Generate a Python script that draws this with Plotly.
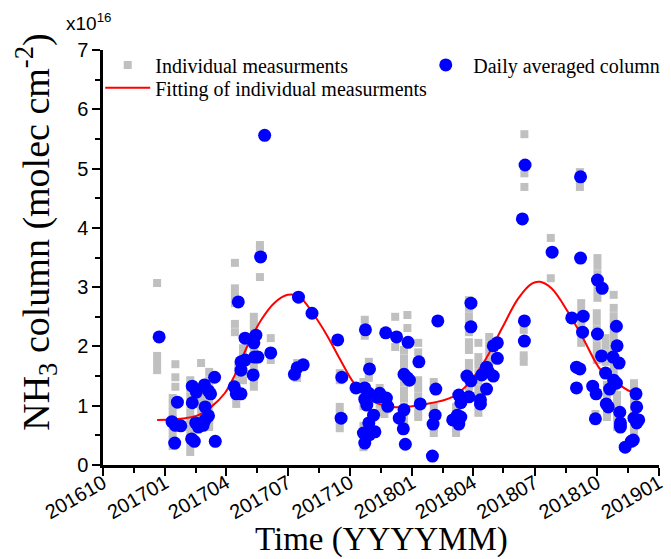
import plotly.graph_objects as go

# ---------------- data ----------------
gray_dates = [
    "2016-12-20", "2016-12-20", "2016-12-20", "2016-12-20",
    "2017-01-16", "2017-01-16", "2017-01-16",
    "2017-01-12", "2017-01-12", "2017-01-12", "2017-01-12", "2017-01-12", "2017-01-12", "2017-01-12", "2017-01-12",
    "2017-02-07", "2017-02-07", "2017-02-07", "2017-02-07", "2017-02-07", "2017-02-07", "2017-02-07", "2017-02-07", "2017-02-07", "2017-02-07",
    "2017-02-23", "2017-02-23", "2017-02-23", "2017-02-23", "2017-02-23", "2017-02-23", "2017-02-23",
    "2017-03-07", "2017-03-07", "2017-03-07", "2017-03-07", "2017-03-07", "2017-03-07", "2017-03-07", "2017-03-07",
    "2017-04-14", "2017-04-14", "2017-04-14", "2017-04-14", "2017-04-14", "2017-04-14",
    "2017-04-16", "2017-04-16", "2017-04-16", "2017-04-16", "2017-04-19", "2017-04-19",
    "2017-04-26", "2017-04-26", "2017-04-26", "2017-04-26", "2017-04-26",
    "2017-05-12", "2017-05-12", "2017-05-12", "2017-05-12", "2017-05-12", "2017-05-12", "2017-05-12", "2017-05-12", "2017-05-12", "2017-05-12", "2017-05-12",
    "2017-05-21", "2017-05-21", "2017-05-21",
    "2017-06-06", "2017-06-06",
    "2017-07-15", "2017-07-15", "2017-07-15",
    "2017-09-16", "2017-09-16", "2017-09-16", "2017-09-16", "2017-09-16", "2017-09-16",
    "2017-10-23", "2017-10-23", "2017-10-23",
    "2017-10-29", "2017-10-29", "2017-10-29",
    "2017-10-21", "2017-10-21", "2017-10-21", "2017-10-21", "2017-10-21", "2017-10-21", "2017-10-21", "2017-10-21",
    "2017-11-14", "2017-11-14", "2017-11-14", "2017-11-14",
    "2017-11-21", "2017-11-21", "2017-11-21",
    "2017-12-07", "2017-12-07",
    "2017-12-25", "2017-12-25",
    "2017-12-20", "2017-12-20", "2017-12-20", "2017-12-20", "2017-12-20", "2017-12-20", "2017-12-20", "2017-12-20", "2017-12-20", "2017-12-20", "2017-12-20",
    "2018-01-10", "2018-01-10", "2018-01-10", "2018-01-10", "2018-01-10", "2018-01-10", "2018-01-10", "2018-01-10",
    "2018-02-02", "2018-02-02", "2018-02-02", "2018-02-02", "2018-02-02", "2018-02-02",
    "2018-03-07", "2018-03-07", "2018-03-07", "2018-03-07", "2018-03-07",
    "2018-03-26", "2018-03-26", "2018-03-26", "2018-03-26", "2018-03-26", "2018-03-26", "2018-03-26", "2018-03-26", "2018-03-26", "2018-03-26", "2018-03-26",
    "2018-04-09", "2018-04-09", "2018-04-09", "2018-04-09", "2018-04-09", "2018-04-09", "2018-04-09", "2018-04-09", "2018-04-09",
    "2018-04-25", "2018-04-25", "2018-04-25", "2018-04-25", "2018-04-25",
    "2018-06-16", "2018-06-16", "2018-06-16",
    "2018-06-15", "2018-06-15", "2018-06-15", "2018-06-15",
    "2018-07-25", "2018-07-25",
    "2018-09-06", "2018-09-06", "2018-09-06",
    "2018-09-08", "2018-09-08", "2018-09-08", "2018-09-08", "2018-09-08", "2018-09-08",
    "2018-10-02", "2018-10-02", "2018-10-02", "2018-10-02", "2018-10-02", "2018-10-02",
    "2018-10-01", "2018-10-01", "2018-10-01", "2018-10-01", "2018-10-01", "2018-10-01", "2018-10-01",
    "2018-10-14", "2018-10-14", "2018-10-14", "2018-10-14",
    "2018-10-26", "2018-10-26", "2018-10-26", "2018-10-26", "2018-10-26", "2018-10-26", "2018-10-26", "2018-10-26", "2018-10-26", "2018-10-26", "2018-10-26", "2018-10-26",
    "2018-10-31", "2018-10-31", "2018-10-31", "2018-10-31", "2018-10-31",
    "2018-10-16", "2018-10-16", "2018-10-16", "2018-10-16", "2018-10-16",
    "2018-09-29", "2018-09-29",
    "2018-11-25", "2018-11-25", "2018-11-25", "2018-11-25", "2018-11-25", "2018-11-25", "2018-11-25",
]
gray_values = [
    3.07, 1.84, 1.72, 1.60,
    1.70, 1.48, 1.32,
    1.13, 1.01, 0.89, 0.78, 0.66, 0.54, 0.42, 0.32,
    1.43, 1.30, 1.16, 1.03, 0.89, 0.76, 0.62, 0.49, 0.35, 0.22,
    1.72, 1.32, 1.18, 1.05, 0.91, 0.78, 0.64,
    1.57, 1.43, 1.30, 1.16, 1.03, 0.89, 0.76, 0.64,
    3.41, 2.98, 2.85, 2.73, 2.38, 2.24,
    1.38, 1.26, 1.15, 1.03, 1.65, 1.52,
    1.97, 1.84, 1.70, 1.57, 1.43,
    2.50, 2.38, 2.26, 2.14, 2.02, 1.91, 1.79, 1.67, 1.55, 1.43, 1.32,
    3.71, 3.63, 3.17,
    2.14, 1.77,
    1.72, 1.60, 1.47,
    1.55, 1.43, 0.98, 0.86, 0.74, 0.62,
    2.45, 2.31, 2.18,
    1.74, 1.60, 1.47,
    1.40, 1.26, 1.13, 0.99, 0.66, 0.54, 0.42, 0.30,
    1.30, 1.16, 1.03, 0.89,
    1.13, 0.99, 0.86,
    2.50, 1.99,
    2.53, 2.31,
    1.94, 1.80, 1.67, 1.53, 1.40, 1.26, 1.13, 0.99, 0.86, 0.73, 0.59,
    2.06, 1.90, 1.43, 1.30, 1.16, 1.03, 0.89, 0.81,
    1.40, 0.98, 0.86, 0.74, 0.62, 0.54,
    0.98, 0.86, 0.74, 0.62, 0.54,
    2.78, 2.65, 2.51, 2.38, 2.24, 2.07, 1.94, 1.72, 1.59, 1.45, 1.32,
    2.06, 1.82, 1.69, 1.55, 1.42, 1.28, 1.15, 1.01, 0.88,
    2.16, 2.02, 1.89, 1.75, 1.65,
    5.58, 4.92, 4.69,
    2.41, 2.28, 1.85, 1.74,
    3.83, 3.15,
    4.94, 4.81, 4.69,
    2.73, 2.60, 2.46, 2.33, 2.19, 2.06,
    3.49, 3.36, 3.22, 3.09, 2.95, 2.82,
    2.56, 2.43, 2.29, 2.16, 2.02, 1.89, 1.77,
    2.14, 2.01, 1.87, 1.74,
    2.87, 2.65, 2.51, 2.38, 2.24, 2.11, 1.97, 1.84, 1.70, 1.57, 1.43, 1.30,
    1.18, 1.05, 0.91, 0.78, 0.64,
    1.35, 1.21, 1.08, 0.94, 0.81,
    0.86, 0.74,
    1.38, 1.25, 1.11, 0.98, 0.84, 0.71, 0.57,
]

daily_dates = [
    "2016-12-23", "2017-01-11", "2017-01-16", "2017-01-24", "2017-01-19", "2017-01-15",
    "2017-02-10", "2017-02-16", "2017-02-28", "2017-03-06", "2017-03-09", "2017-03-15",
    "2017-02-10", "2017-03-01", "2017-03-06", "2017-03-01", "2017-02-15", "2017-02-19",
    "2017-02-26", "2017-02-09", "2017-02-13", "2017-03-16", "2017-04-19", "2017-04-13",
    "2017-04-16", "2017-04-23", "2017-04-23", "2017-04-29", "2017-04-29", "2017-05-15",
    "2017-05-12", "2017-05-13", "2017-04-23", "2017-05-11", "2017-05-18", "2017-05-22",
    "2017-05-28", "2017-06-06", "2017-07-11", "2017-07-15", "2017-07-24", "2017-07-17",
    "2017-08-06", "2017-09-13", "2017-09-19", "2017-09-18",
    "2017-10-10", "2017-10-24", "2017-10-30", "2017-10-23", "2017-10-29", "2017-10-23",
    "2017-10-26", "2017-11-14", "2017-11-17", "2017-11-10", "2017-11-24", "2017-11-26",
    "2017-11-05", "2017-10-29", "2017-10-21", "2017-10-23", "2017-10-30", "2017-11-07",
    "2017-11-23", "2017-12-09", "2017-12-26", "2018-01-11", "2017-12-20", "2017-12-25",
    "2017-12-28", "2017-12-20", "2017-12-13", "2017-12-19", "2017-12-22", "2018-01-13",
    "2018-02-08", "2018-02-05", "2018-02-04", "2018-02-01", "2018-01-31", "2018-03-02",
    "2018-03-09", "2018-03-14", "2018-03-11", "2018-03-11", "2018-03-14", "2018-03-26",
    "2018-03-23", "2018-03-29", "2018-03-29", "2018-03-29", "2018-04-12", "2018-04-12",
    "2018-04-14", "2018-04-21", "2018-04-24", "2018-04-21", "2018-05-01", "2018-05-01",
    "2018-05-07", "2018-05-07",
    "2018-06-16", "2018-06-16", "2018-06-17", "2018-06-13", "2018-07-27", "2018-09-07",
    "2018-09-07", "2018-10-02", "2018-10-09", "2018-08-25", "2018-09-11", "2018-09-10",
    "2018-10-02", "2018-10-30", "2018-10-31", "2018-10-08", "2018-10-25", "2018-11-03",
    "2018-09-01", "2018-09-06", "2018-10-14", "2018-10-26", "2018-10-30", "2018-10-20",
    "2018-09-01", "2018-09-25", "2018-09-30", "2018-10-15", "2018-10-18", "2018-11-04",
    "2018-11-05", "2018-11-05", "2018-09-29", "2018-11-28", "2018-11-29", "2018-11-25",
    "2018-12-02", "2018-11-29", "2018-11-24", "2018-11-21", "2018-11-12",
]
daily_values = [
    2.16, 0.73, 0.67, 0.66, 1.06, 0.37,
    1.33, 1.23, 1.35, 1.25, 1.20, 1.48,
    1.05, 0.98, 0.83, 0.76, 0.71, 0.64,
    0.67, 0.44, 0.40, 0.40, 2.75, 1.32,
    1.20, 1.20, 1.74, 1.77, 2.14, 2.19,
    2.06, 1.82, 1.60, 1.52, 1.82, 3.51,
    5.56, 1.89, 1.53, 1.64, 1.69, 2.83,
    2.56, 2.11, 1.48, 0.79,
    1.30, 2.28, 1.62, 1.30, 1.21, 1.11,
    1.01, 1.21, 1.15, 1.15, 1.13, 0.99,
    0.84, 0.71, 0.54, 0.37, 0.51, 0.56,
    2.23, 2.16, 2.07, 1.74, 1.53, 1.47,
    1.43, 0.93, 0.79, 0.61, 0.35, 1.03,
    2.43, 1.28, 0.84, 0.69, 0.15, 0.76,
    0.84, 0.81, 0.69, 1.18, 1.05, 1.15,
    1.50, 1.42, 2.73, 2.33, 1.10, 1.03,
    1.52, 1.65, 1.57, 1.28, 1.50, 2.01,
    2.06, 1.80,
    2.43, 2.09, 5.06, 4.15, 3.59, 3.49,
    4.86, 3.12, 2.98, 2.48, 2.51, 2.24,
    2.21, 2.34, 2.01, 1.84, 1.82, 1.72,
    1.65, 1.62, 1.55, 1.43, 1.38, 1.28,
    1.30, 1.33, 1.20, 1.03, 0.98, 0.89,
    0.71, 0.64, 0.78, 1.20, 0.98, 0.79,
    0.76, 0.71, 0.42, 0.40, 0.30,
]

fit_dates = [
    "2016-12-20", "2017-01-31", "2017-02-19", "2017-03-10", "2017-03-30", "2017-04-14",
    "2017-05-03", "2017-05-23", "2017-06-11", "2017-07-01", "2017-07-18", "2017-08-09",
    "2017-08-28", "2017-09-17", "2017-10-07", "2017-10-31", "2017-12-04", "2018-01-22",
    "2018-03-02", "2018-03-26", "2018-04-19", "2018-05-14", "2018-06-07", "2018-06-27",
    "2018-07-09", "2018-07-26", "2018-08-19", "2018-09-12", "2018-10-07", "2018-10-31",
    "2018-11-20", "2018-11-30",
]
fit_values = [
    0.76, 0.79, 0.84, 0.98, 1.21, 1.52,
    2.02, 2.45, 2.73, 2.87, 2.84, 2.53,
    2.19, 1.77, 1.38, 1.10, 0.98, 1.03,
    1.15, 1.38, 1.77, 2.31, 2.81, 3.06,
    3.09, 2.98, 2.59, 2.11, 1.60, 1.38,
    1.24, 1.22,
]

x_tick_dates = ["2016-10-01", "2017-01-01", "2017-04-01", "2017-07-01", "2017-10-01",
                "2018-01-01", "2018-04-01", "2018-07-01", "2018-10-01", "2019-01-01"]
x_tick_labels = ["201610", "201701", "201704", "201707", "201710",
                 "201801", "201804", "201807", "201810", "201901"]
x_minor_dates = ["2016-11-16", "2017-02-15", "2017-05-16", "2017-08-16", "2017-11-16",
                 "2018-02-15", "2018-05-16", "2018-08-16", "2018-11-16"]
y_tick_vals = [0, 1, 2, 3, 4, 5, 6, 7]

# ---------------- figure ----------------
SERIF = "Liberation Serif"
SANS = "Liberation Sans"

fig = go.Figure()
fig.add_trace(go.Scatter(
    x=gray_dates, y=gray_values, mode="markers", name="Individual measurments",
    marker=dict(symbol="square", size=8, color="#C0C0C0", line=dict(width=0)),
    legend="legend",
))
fig.add_trace(go.Scatter(
    x=fit_dates, y=fit_values, mode="lines", name="Fitting of individual measurments",
    line=dict(color="#FF0000", width=2, shape="spline", smoothing=1.0),
    legend="legend3",
))
fig.add_trace(go.Scatter(
    x=daily_dates, y=daily_values, mode="markers", name="Daily averaged column",
    marker=dict(symbol="circle", size=13, color="#0000FF", line=dict(width=0)),
    legend="legend2",
))

x_range = ["2016-10-01", "2019-01-01"]
common_x = dict(type="date", range=x_range, tickmode="array", tickvals=x_tick_dates,
                showgrid=False, zeroline=False, showline=True, linecolor="black",
                tickcolor="black", tickwidth=2,
                minor=dict(tickmode="array", tickvals=x_minor_dates, ticklen=5,
                           tickwidth=2, tickcolor="black", showgrid=False))
common_y = dict(range=[0, 7], tickmode="array", tickvals=y_tick_vals,
                showgrid=False, zeroline=False, showline=True, linecolor="black",
                tickcolor="black", tickwidth=2,
                minor=dict(dtick=0.5, ticklen=5, tickwidth=2, tickcolor="black", showgrid=False))

leg_common = dict(xanchor="left", yanchor="middle", bgcolor="rgba(0,0,0,0)",
                  borderwidth=0, itemwidth=45,
                  font=dict(family=SERIF, size=20, color="black"))

fig.update_layout(
    width=671, height=559,
    margin=dict(l=103, r=6, t=50, b=94),
    paper_bgcolor="white", plot_bgcolor="white",
    font=dict(family=SANS, color="black"),
    xaxis=dict(**common_x, ticks="outside", ticklen=8, linewidth=2.5,
               ticktext=x_tick_labels, tickangle=-30, ticklabelstandoff=-12,
               ticklabeloverflow="allow",
               tickfont=dict(family=SANS, size=20, color="black")),
    xaxis2=dict(**common_x, overlaying="x", side="top", anchor="y", ticks="inside",
                ticklen=8, linewidth=1.5, showticklabels=False),
    yaxis=dict(**common_y, ticks="outside", ticklen=8, linewidth=2.5,
               tickfont=dict(family=SANS, size=20, color="black")),
    yaxis2=dict(**common_y, overlaying="y", side="right", anchor="x", ticks="outside",
                ticklen=5, linewidth=1.5, showticklabels=False),
    legend=dict(x=-0.005, y=0.964, **leg_common),
    legend3=dict(x=-0.005, y=0.909, **leg_common),
    legend2=dict(x=0.567, y=0.964, **leg_common),
    showlegend=True,
    annotations=[
        dict(text="Time (YYYYMM)", xref="paper", yref="paper", x=0.5, y=-0.18,
             xanchor="center", yanchor="middle", showarrow=False,
             font=dict(family=SERIF, size=33, color="black")),
        dict(text="NH<sub>3</sub> column (molec cm<sup>-2</sup>)", xref="paper", yref="paper",
             x=-0.122, y=0.56, xanchor="center", yanchor="middle", textangle=-90,
             showarrow=False, font=dict(family=SERIF, size=38, color="black")),
        dict(text="x10<sup>16</sup>", xref="paper", yref="paper", x=-0.07, y=1.067,
             xanchor="left", yanchor="middle", showarrow=False,
             font=dict(family=SANS, size=19, color="black")),
    ],
)

fig.write_html("out.html")
